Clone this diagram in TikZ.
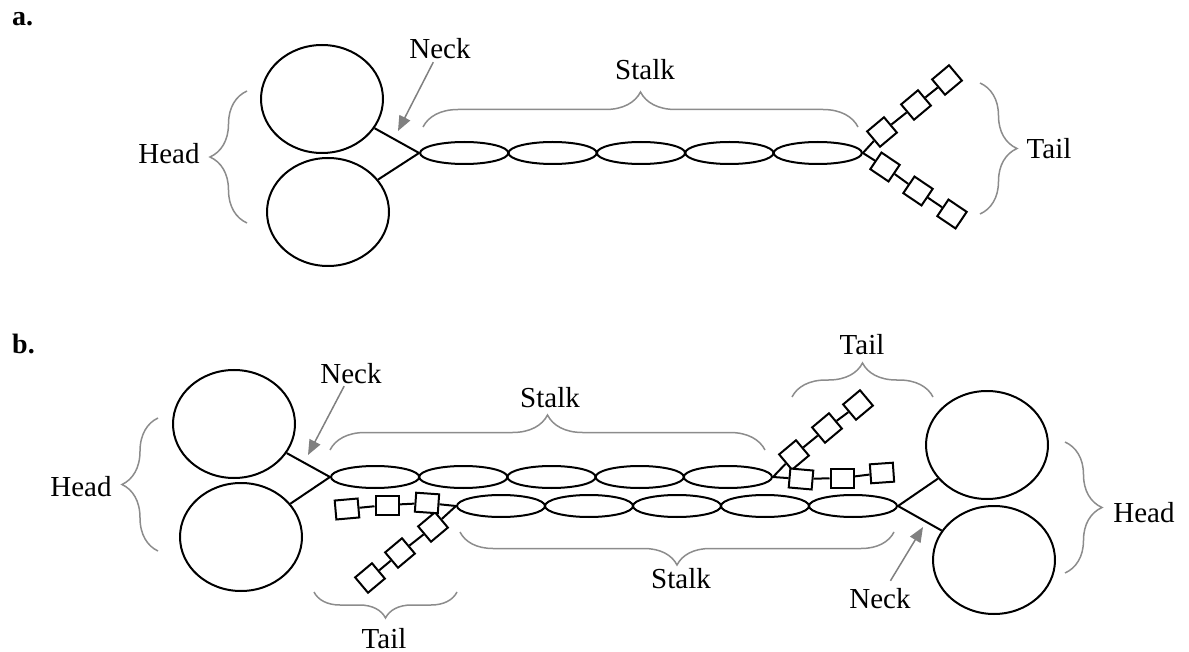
\documentclass[tikz,border=0pt]{standalone}
\usepackage{fontspec}
\setmainfont{Liberation Serif}
\usetikzlibrary{arrows.meta,decorations.pathreplacing,shapes.geometric}
\definecolor{braceGray}{RGB}{140,140,140}
\definecolor{arrowGray}{RGB}{128,128,128}

\begin{document}
\begin{tikzpicture}[x=1pt,y=-1pt,
  lbl/.style={font=\fontsize{29}{34}\selectfont, inner sep=0pt, anchor=base},
  panel/.style={font=\fontsize{28}{34}\selectfont\bfseries, inner sep=0pt, anchor=base west},
  headball/.style={draw, ellipse, line width=2pt, minimum width=122pt, minimum height=108pt, inner sep=0pt},
  seg/.style={draw, ellipse, line width=2pt, minimum width=88.2pt, minimum height=22pt, inner sep=0pt},
  bead/.style={draw, fill=white, rectangle, line width=2pt, minimum width=22pt, minimum height=20pt, inner sep=0pt},
  flatbead/.style={bead, minimum width=23pt, minimum height=19pt},
  link/.style={line width=2pt},
  grp/.style={decorate, decoration={brace, amplitude=#1}, draw=braceGray, line width=1.5pt},
  grp/.default=35pt,
  pointer/.style={draw=arrowGray, line width=1.5pt, shorten <=3pt, -{Triangle[length=15pt,width=12pt]}},
]
\useasboundingbox (0,0) rectangle (1189,652);

% ---------------- panel a ----------------
\node[panel] (labA) at (12,26) {a.};

\node[headball] (aH1) at (322,99) {};
\node[headball] (aH2) at (328,212) {};
\foreach \i/\x in {1/464.2,2/552.6,3/641.0,4/729.4,5/817.8}
  \node[seg] (aS\i) at (\x,153) {};
\draw[link] (aH1) -- (aS1.west);
\draw[link] (aH2) -- (aS1.west);

% tail chains
\node[bead, rotate=40] (aT1) at (882,132) {};
\node[bead, rotate=40] (aT2) at (916,105) {};
\node[bead, rotate=40] (aT3) at (947,80) {};
\node[bead, rotate=-34] (aU1) at (885,167) {};
\node[bead, rotate=-34] (aU2) at (918,191) {};
\node[bead, rotate=-34] (aU3) at (952,214) {};
\draw[link] (aS5.east) -- (aT1) -- (aT2) -- (aT3);
\draw[link] (aS5.east) -- (aU1) -- (aU2) -- (aU3);

% braces and labels
\coordinate (aStalkL) at (423,127);
\coordinate (aStalkR) at (858,127);
\draw[grp] (aStalkL) -- (aStalkR);
\node[lbl] (aStalk) at (645,80) {Stalk};

\coordinate (aHeadB) at (247,223);
\coordinate (aHeadT) at (247,91);
\draw[grp=37pt] (aHeadB) -- (aHeadT);
\node[lbl] (aHead) at (169,164) {Head};

\coordinate (aTailT) at (980,83);
\coordinate (aTailB) at (980,214);
\draw[grp=37pt] (aTailT) -- (aTailB);
\node[lbl] (aTail) at (1049,159) {Tail};

\node[lbl] (aNeck) at (440,59) {Neck};
\coordinate (aNeckTip) at (398,131);
\draw[pointer] (aNeck) -- (aNeckTip);

% ---------------- panel b ----------------
\node[panel] (labB) at (12,354) {b.};

% left molecule
\node[headball] (bH1) at (234,424) {};
\node[headball] (bH2) at (241,537) {};
\foreach \i/\x in {1/375.1,2/463.3,3/551.5,4/639.7,5/727.9}
  \node[seg] (bU\i) at (\x,477) {};
\draw[link] (bH1) -- (bU1.west);
\draw[link] (bH2) -- (bU1.west);

\node[bead, rotate=40] (bT1) at (794,455) {};
\node[bead, rotate=40] (bT2) at (827,428) {};
\node[bead, rotate=40] (bT3) at (858,405) {};
\node[flatbead, rotate=-5] (bF1) at (801,479) {};
\node[flatbead] (bF2) at (842,478) {};
\node[flatbead, rotate=4] (bF3) at (882,473) {};
\draw[link] (bU5.east) -- (bT1) -- (bT2) -- (bT3);
\draw[link] (bU5.east) -- (bF1) -- (bF2) -- (bF3);

% right molecule
\node[headball] (bH3) at (987,445) {};
\node[headball] (bH4) at (994,560) {};
\foreach \i/\x in {1/501,2/589,3/677,4/765,5/853}
  \node[seg, minimum width=88pt] (bL\i) at (\x,506) {};
\draw[link] (bH3) -- (bL5.east);
\draw[link] (bH4) -- (bL5.east);

\node[bead, rotate=40] (bD1) at (433,527) {};
\node[bead, rotate=40] (bD2) at (400,553) {};
\node[bead, rotate=40] (bD3) at (370,578) {};
\node[flatbead, rotate=-4] (bG1) at (427,503) {};
\node[flatbead] (bG2) at (387,505) {};
\node[flatbead, rotate=5] (bG3) at (347,509) {};
\draw[link] (bL1.west) -- (bD1) -- (bD2) -- (bD3);
\draw[link] (bL1.west) -- (bG1) -- (bG2) -- (bG3);

% braces and labels
\coordinate (bStalkUL) at (330,450);
\coordinate (bStalkUR) at (765,450);
\draw[grp] (bStalkUL) -- (bStalkUR);
\node[lbl] (bStalkU) at (550,407) {Stalk};

\coordinate (bTailUL) at (792,397);
\coordinate (bTailUR) at (933,397);
\draw[grp=34pt] (bTailUL) -- (bTailUR);
\node[lbl] (bTailU) at (862,355) {Tail};

\coordinate (bStalkLR) at (894,532);
\coordinate (bStalkLL) at (460,532);
\draw[grp=33pt] (bStalkLR) -- (bStalkLL);
\node[lbl] (bStalkL) at (681,588) {Stalk};

\coordinate (bTailLR) at (457,592);
\coordinate (bTailLL) at (314,592);
\draw[grp=26pt] (bTailLR) -- (bTailLL);
\node[lbl] (bTailL) at (384,648) {Tail};

\coordinate (bHeadLB) at (158,551);
\coordinate (bHeadLT) at (158,418);
\draw[grp=36pt] (bHeadLB) -- (bHeadLT);
\node[lbl] (bHeadL) at (81,496) {Head};

\coordinate (bHeadRT) at (1065,442);
\coordinate (bHeadRB) at (1065,573);
\draw[grp=37pt] (bHeadRT) -- (bHeadRB);
\node[lbl] (bHeadR) at (1144,522) {Head};

\node[lbl] (bNeckL) at (351,383) {Neck};
\coordinate (bNeckLTip) at (308,455);
\draw[pointer] (bNeckL) -- (bNeckLTip);

\node[lbl] (bNeckR) at (880,608) {Neck};
\coordinate (bNeckRTip) at (923,527);
\draw[pointer, shorten <=8pt] (bNeckR) -- (bNeckRTip);

\end{tikzpicture}
\end{document}
